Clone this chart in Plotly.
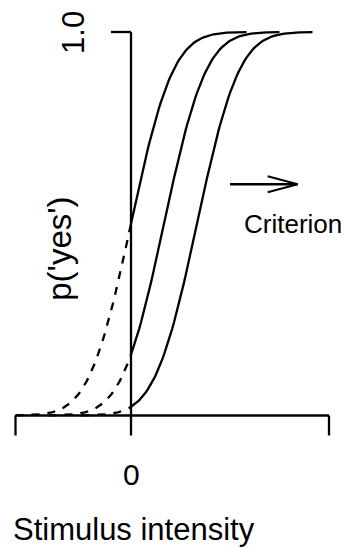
import math
import plotly.graph_objects as go

# Psychometric functions: cumulative normals shifted along the stimulus axis
curve_means = [0.0, 1.0, 2.0]
curve_sd = 1.0
curve_half_span = 3.5          # each curve drawn over mean +/- this many units
n_points = 141

# Axis layout (data units)
x_axis_ticks = [-3.5, 0.0, 6.0]
x_tick_labels = ["", "0", ""]
y_axis_ticks = [1.0]
y_tick_labels = ["1.0"]

# Criterion arrow (data units)
arrow_from = [3.0, 0.603]
arrow_to = [5.05, 0.603]

FONT = "Liberation Sans, Arial, Helvetica, sans-serif"
LW = 2.3


def pnorm(x, m, s):
    return 0.5 * (1.0 + math.erf((x - m) / (s * math.sqrt(2.0))))


fig = go.Figure()

for m in curve_means:
    xs = [m - curve_half_span + i * (2 * curve_half_span) / (n_points - 1) for i in range(n_points)]
    neg = [x for x in xs if x <= 0] + ([0.0] if m - curve_half_span < 0 else [])
    pos = ([0.0] if m - curve_half_span < 0 else []) + [x for x in xs if x >= 0]
    if len(neg) > 1:
        fig.add_trace(go.Scatter(x=neg, y=[pnorm(x, m, curve_sd) for x in neg], mode="lines",
                                 line=dict(color="black", width=LW, dash="8px,8px"),
                                 hoverinfo="skip", showlegend=False))
    fig.add_trace(go.Scatter(x=pos, y=[pnorm(x, m, curve_sd) for x in pos], mode="lines",
                             line=dict(color="black", width=LW),
                             hoverinfo="skip", showlegend=False))

# unit sizes used for tick lengths
px_per_x = 33.0
px_per_y = 383.5
tick_px = 20.0
tick_dy = tick_px / px_per_y
tick_dx = tick_px / px_per_x

seg = dict(mode="lines", line=dict(color="black", width=LW), hoverinfo="skip", showlegend=False)

# x axis: line between outer ticks at y = 0, ticks pointing down
fig.add_trace(go.Scatter(x=[x_axis_ticks[0], x_axis_ticks[-1]], y=[0, 0], **seg))
for t in x_axis_ticks:
    fig.add_trace(go.Scatter(x=[t, t], y=[0, -tick_dy], **seg))

# y axis at x = 0 from 0 to 1, tick pointing left
fig.add_trace(go.Scatter(x=[0, 0], y=[0, y_axis_ticks[-1]], **seg))
for t in y_axis_ticks:
    fig.add_trace(go.Scatter(x=[0, -tick_dx], y=[t, t], **seg))

# criterion arrow with open head
head_len = 30.0 / px_per_x
head_half = 8.0 / px_per_y
fig.add_trace(go.Scatter(x=[arrow_from[0], arrow_to[0]], y=[arrow_from[1], arrow_to[1]], **seg))
fig.add_trace(go.Scatter(x=[arrow_to[0] - head_len, arrow_to[0], arrow_to[0] - head_len],
                         y=[arrow_to[1] + head_half, arrow_to[1], arrow_to[1] - head_half],
                         mode="lines", line=dict(color="black", width=LW * 0.8),
                         hoverinfo="skip", showlegend=False))

annotations = []
for t, lab in zip(x_axis_ticks, x_tick_labels):
    if lab:
        annotations.append(dict(x=t, y=-0.155, text=lab, showarrow=False,
                                font=dict(family=FONT, size=30, color="black"),
                                xanchor="center", yanchor="middle"))
for t, lab in zip(y_axis_ticks, y_tick_labels):
    annotations.append(dict(x=-1.76, y=t, text=lab, showarrow=False, textangle=-90,
                            font=dict(family=FONT, size=31, color="black"),
                            xanchor="center", yanchor="middle"))
annotations += [
    dict(x=0.08, y=-0.296, text="Stimulus intensity", showarrow=False,
         font=dict(family=FONT, size=31, color="black"), xanchor="center", yanchor="middle"),
    dict(x=-2.15, y=0.435, text="p('yes')", showarrow=False, textangle=-90,
         font=dict(family=FONT, size=33, color="black"), xanchor="center", yanchor="middle"),
    dict(x=4.9, y=0.5, text="Criterion", showarrow=False,
         font=dict(family=FONT, size=26, color="black"), xanchor="center", yanchor="middle"),
]

fig.update_layout(
    width=344, height=548,
    margin=dict(l=0, r=0, t=0, b=0),
    paper_bgcolor="white", plot_bgcolor="white",
    xaxis=dict(range=[-131 / px_per_x, 213 / px_per_x], visible=False, fixedrange=True),
    yaxis=dict(range=[-132.5 / px_per_y, 415.5 / px_per_y], visible=False, fixedrange=True),
    annotations=annotations,
    showlegend=False,
)

fig.write_html("out.html")
